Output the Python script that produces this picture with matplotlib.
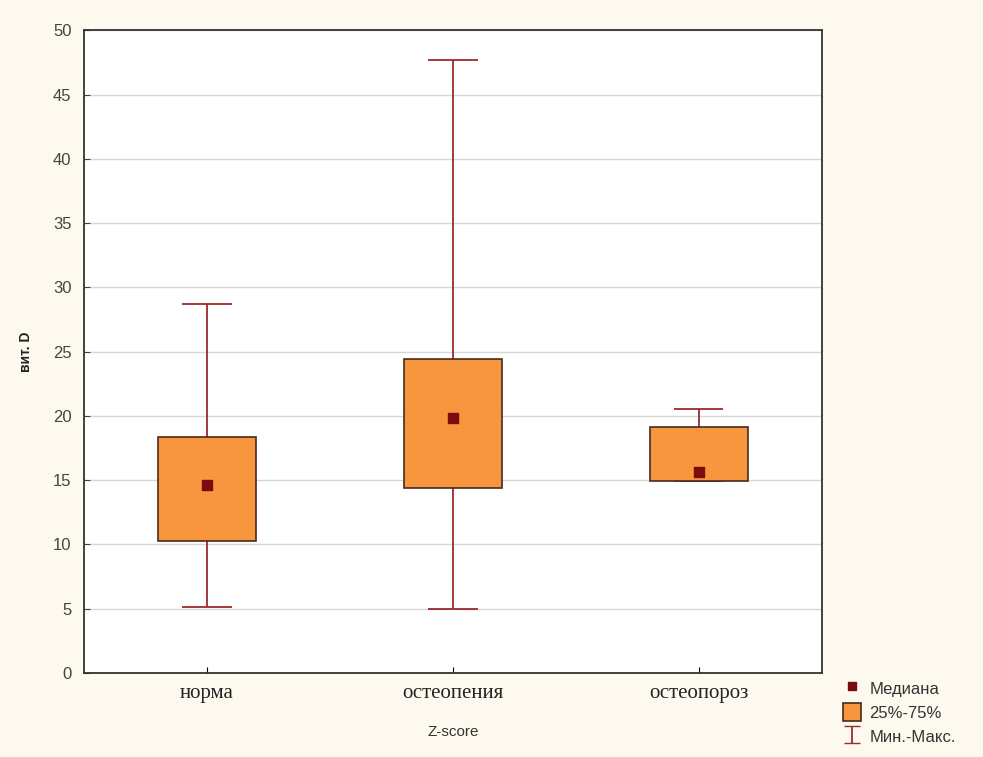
import numpy as np
import matplotlib
matplotlib.use("Agg")
import matplotlib.pyplot as plt
from matplotlib.lines import Line2D
from matplotlib.patches import Patch

groups = ["норма", "остеопения", "остеопороз"]
q1 = [10.3, 14.4, 14.9]
q3 = [18.35, 24.4, 19.1]
medians = [14.6, 19.8, 15.6]
mins = [5.1, 5.0, 14.9]
maxs = [28.7, 47.7, 20.5]
yticks = [0, 5, 10, 15, 20, 25, 30, 35, 40, 45, 50]

BG = "#fdf9ef"
BOX = "#f7963f"
EDGE = "#4a2a1a"
WHISK = "#9c2b2b"
MED = "#7a0c0c"

fig = plt.figure(figsize=(9.83, 7.57), dpi=100, facecolor=BG)
ax = fig.add_axes([0.0855, 0.111, 0.7505, 0.849])
ax.set_facecolor("white")

pos = np.arange(1, len(groups) + 1)

# whiskers
ax.vlines(pos, mins, maxs, color=WHISK, linewidth=1.3, zorder=2)
ax.hlines(maxs, pos - 0.1, pos + 0.1, color=WHISK, linewidth=1.3, zorder=2)
ax.hlines(mins, pos - 0.1, pos + 0.1, color=WHISK, linewidth=1.3, zorder=2)

# boxes
ax.bar(pos, np.array(q3) - np.array(q1), bottom=q1, width=0.4,
       color=BOX, edgecolor=EDGE, linewidth=1.2, zorder=3)

# medians
ax.scatter(pos, medians, marker="s", s=55, color=MED, zorder=4)

ax.set_xlim(0.5, 3.5)
ax.set_ylim(0, 50)
ax.set_yticks(yticks)
ax.set_xticks(pos)
ax.set_xticklabels(groups, family="Liberation Serif", fontsize=15, color="#222222")
ax.tick_params(axis="y", labelsize=12, colors="#444444", direction="in", length=4, pad=9)
ax.tick_params(axis="x", direction="in", length=4, pad=8)
for lab in ax.get_yticklabels():
    lab.set_family("Liberation Sans")

ax.grid(axis="y", color="#d6d6d6", linewidth=1.0, zorder=0)
ax.set_axisbelow(True)
for sp in ax.spines.values():
    sp.set_color("#333333")
    sp.set_linewidth(1.3)

ax.set_xlabel("Z-score", family="Liberation Sans", fontsize=11, color="#333333", labelpad=16)
ax.set_ylabel("вит. D", family="Liberation Sans", fontsize=10, color="#222222",
              fontweight="bold", labelpad=14)

eb = ax.errorbar([np.nan], [np.nan], yerr=[1], fmt="none", ecolor=WHISK,
                 elinewidth=1.3, capsize=6)
handles = [
    Line2D([], [], linestyle="none", marker="s", markersize=6, color=MED),
    Patch(facecolor=BOX, edgecolor=EDGE, linewidth=1.2),
    eb,
]
labels = ["Медиана", "25%-75%", "Мин.-Макс."]
fig.legend(handles, labels, loc="lower left", bbox_to_anchor=(0.842, -0.004),
           frameon=False, prop={"family": "Liberation Sans", "size": 12},
           handlelength=1.1, handleheight=1.3, handletextpad=0.5, labelspacing=0.35,
           labelcolor="#333333")

fig.savefig("out.png", dpi=100, facecolor=BG)
